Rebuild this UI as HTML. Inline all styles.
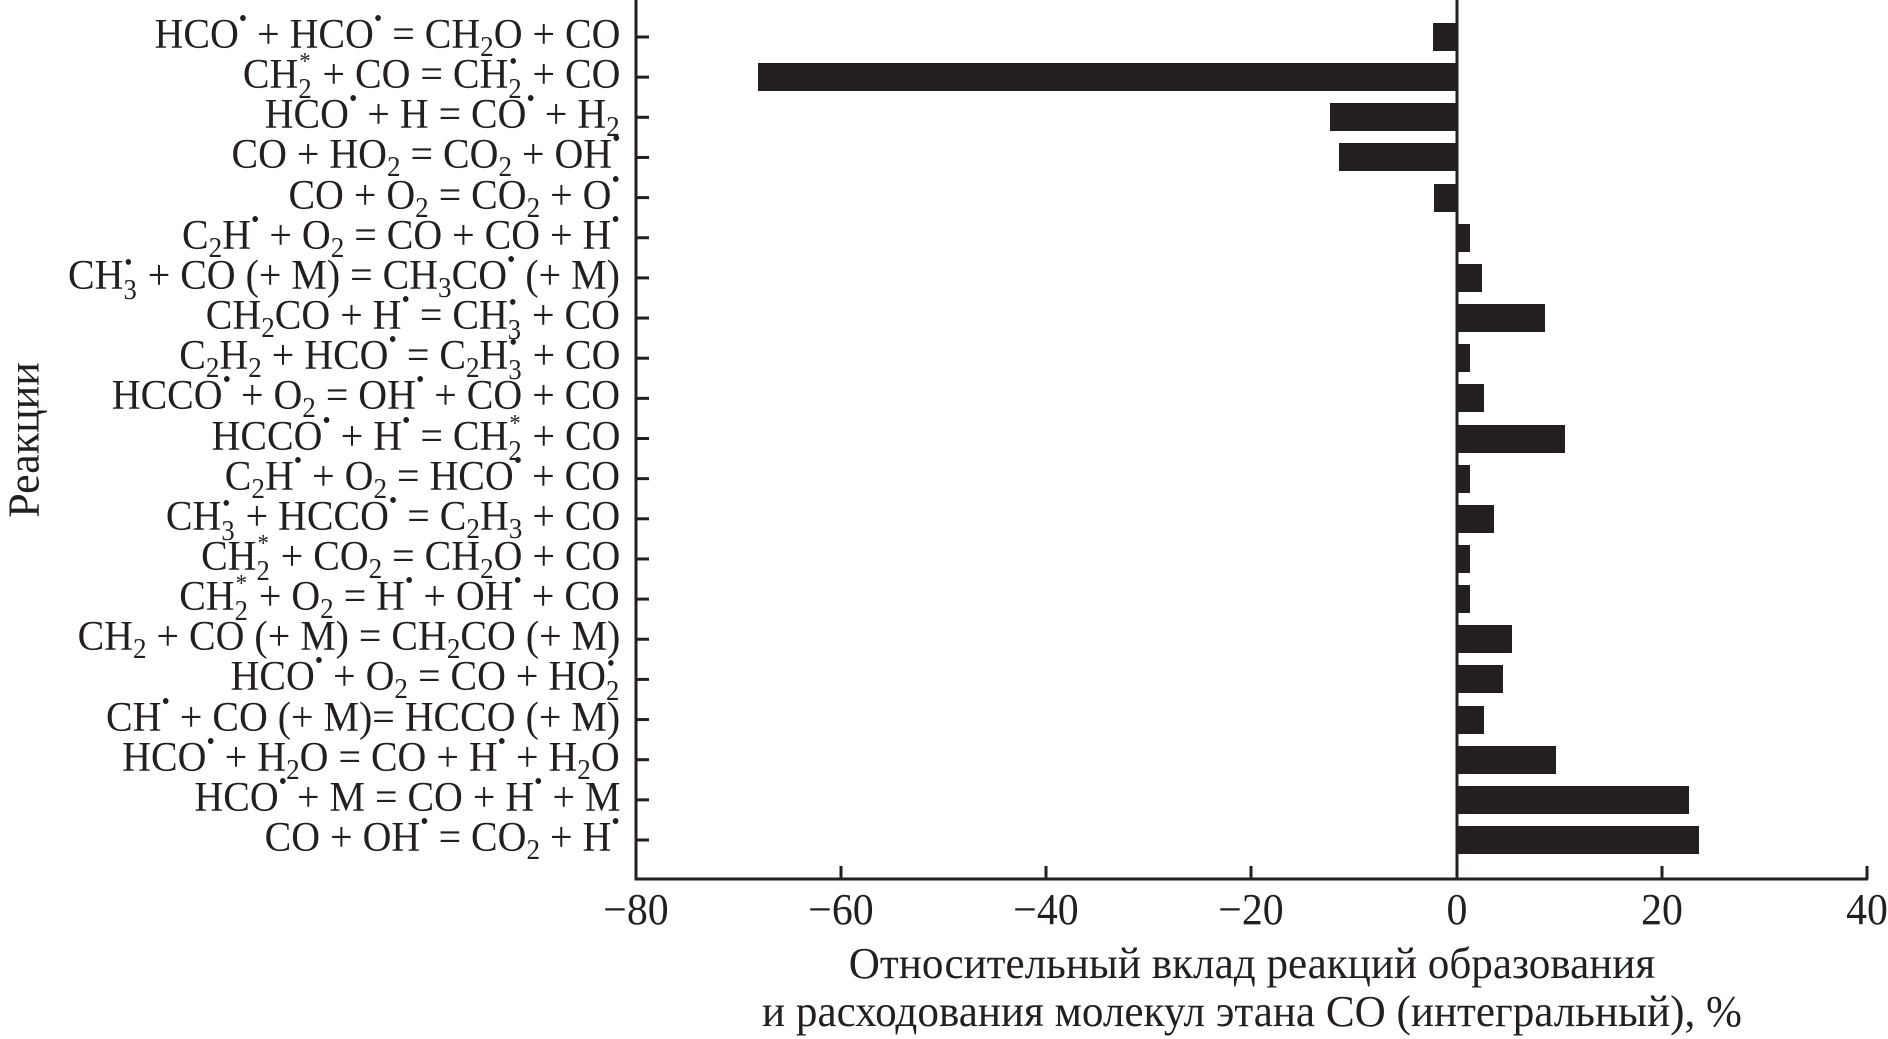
<!DOCTYPE html>
<html><head><meta charset="utf-8"><style>
html,body{margin:0;padding:0;background:#fff;}
body{width:1888px;height:1039px;position:relative;overflow:hidden;font-family:"Liberation Serif",serif;color:#231f20;}
.l{position:absolute;right:1268px;height:40px;line-height:40px;font-size:42px;white-space:nowrap;transform:scaleX(0.95);transform-origin:right center;}
.l sub{font-size:0.68em;vertical-align:-0.28em;line-height:0;}
.d{font-size:0.6em;vertical-align:0.85em;line-height:0;}
.st{display:inline-block;position:relative;width:15px;height:0;line-height:0;}
.st .b{position:absolute;left:0;top:-12px;font-size:28px;line-height:28px;}
.st .a{position:absolute;left:1px;top:-38px;font-size:24px;line-height:24px;}
.bar{position:absolute;height:28px;background:#231f20;}
.t{position:absolute;font-size:44px;transform:translateX(-50%) scaleX(0.95);top:884px;}
.ax{position:absolute;font-size:44px;left:1252px;transform:translateX(-50%) scaleX(0.98);white-space:nowrap;}
</style></head><body>
<svg width="1888" height="1039" style="position:absolute;left:0;top:0">
<g stroke="#231f20" stroke-width="3" fill="none">
<line x1="636" y1="0" x2="636" y2="880"/>
<line x1="634.5" y1="879" x2="1868" y2="879"/>
<line x1="1457" y1="0" x2="1457" y2="879"/>
<line x1="841" y1="866" x2="841" y2="879"/>
<line x1="1046" y1="866" x2="1046" y2="879"/>
<line x1="1251" y1="866" x2="1251" y2="879"/>
<line x1="1662" y1="866" x2="1662" y2="879"/>
<line x1="1867" y1="866" x2="1867" y2="879"/>
</g>
<g id="ticks" stroke="#231f20" stroke-width="3"></g>
</svg>
<div id="c"></div>
<div class="t" style="left:636px">−80</div>
<div class="t" style="left:841px">−60</div>
<div class="t" style="left:1046px">−40</div>
<div class="t" style="left:1251px">−20</div>
<div class="t" style="left:1457px">0</div>
<div class="t" style="left:1662px">20</div>
<div class="t" style="left:1867px">40</div>
<div class="ax" style="top:938px">Относительный вклад реакций образования</div>
<div class="ax" style="top:986px">и расходования молекул этана CO (интегральный), %</div>
<div style="position:absolute;left:24px;top:440px;font-size:44px;transform:translate(-50%,-50%) rotate(-90deg);white-space:nowrap;">Реакции</div>
<script>
var D='<span class="d">•</span>';
function S(n){return '<sub>'+n+'</sub>';}
function ST(n,a){return '<span class="st"><span class="b">'+n+'</span><span class="a">'+a+'</span></span>';}
var L=[
['HCO'+D+' + HCO'+D+' = CH'+S(2)+'O + CO',-2.3],
['CH'+ST(2,'*')+' + CO = CH'+ST(2,'•')+' + CO',-68.2],
['HCO'+D+' + H = CO'+D+' + H'+S(2),-12.4],
['CO + HO'+S(2)+' = CO'+S(2)+' + OH'+D,-11.5],
['CO + O'+S(2)+' = CO'+S(2)+' + O'+D,-2.2],
['C'+S(2)+'H'+D+' + O'+S(2)+' = CO + CO + H'+D,1.3],
['CH'+ST(3,'•')+' + CO (+ M) = CH'+S(3)+'CO'+D+' (+ M)',2.4],
['CH'+S(2)+'CO + H'+D+' = CH'+ST(3,'•')+' + CO',8.6],
['C'+S(2)+'H'+S(2)+' + HCO'+D+' = C'+S(2)+'H'+ST(3,'•')+' + CO',1.3],
['HCCO'+D+' + O'+S(2)+' = OH'+D+' + CO + CO',2.6],
['HCCO'+D+' + H'+D+' = CH'+ST(2,'*')+' + CO',10.5],
['C'+S(2)+'H'+D+' + O'+S(2)+' = HCO'+D+' + CO',1.3],
['CH'+ST(3,'•')+' + HCCO'+D+' = C'+S(2)+'H'+S(3)+' + CO',3.6],
['CH'+ST(2,'*')+' + CO'+S(2)+' = CH'+S(2)+'O + CO',1.3],
['CH'+ST(2,'*')+' + O'+S(2)+' = H'+D+' + OH'+D+' + CO',1.3],
['CH'+S(2)+' + CO (+ M) = CH'+S(2)+'CO (+ M)',5.4],
['HCO'+D+' + O'+S(2)+' = CO + HO'+ST(2,'•'),4.5],
['CH'+D+' + CO (+ M)= HCCO (+ M)',2.6],
['HCO'+D+' + H'+S(2)+'O = CO + H'+D+' + H'+S(2)+'O',9.7],
['HCO'+D+' + M = CO + H'+D+' + M',22.6],
['CO + OH'+D+' = CO'+S(2)+' + H'+D,23.6]];
var h='',tk='';
for(var i=0;i<L.length;i++){
 var y=37+40.15*i;
 h+='<div class="l" style="top:'+(y-22)+'px">'+L[i][0]+'</div>';
 var v=L[i][1],x0=1457,x1=1457+v*10.25;
 h+='<div class="bar" style="top:'+(y-14)+'px;left:'+Math.min(x0,x1)+'px;width:'+Math.abs(x1-x0)+'px"></div>';
 tk+='<line x1="636" y1="'+y+'" x2="649" y2="'+y+'"/>';
}
document.getElementById('c').innerHTML=h;
document.getElementById('ticks').innerHTML=tk;
</script>
</body></html>
